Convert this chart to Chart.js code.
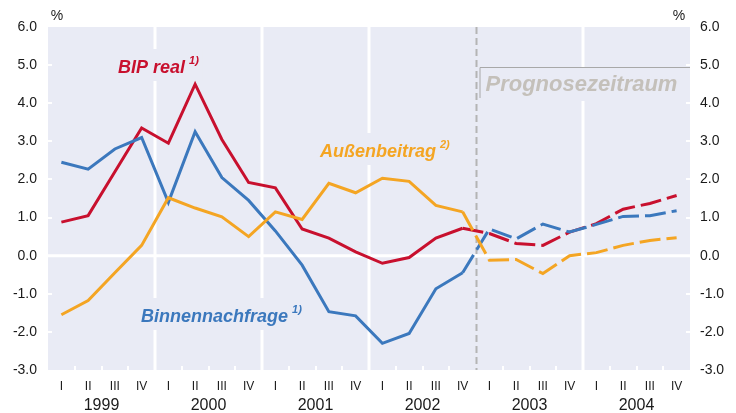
<!DOCTYPE html>
<html>
<head>
<meta charset="utf-8">
<script src="https://cdn.jsdelivr.net/npm/chart.js@4.4.1/dist/chart.umd.min.js"></script>
<style>
  html, body { margin: 0; padding: 0; background: #fff; }
  #grafik { display: block; }
</style>
</head>
<body>
<canvas id="grafik" width="736" height="413"></canvas>
<script>
// Daten (Veränderung gegenüber Vorjahr in %)
const jahre = ["1999", "2000", "2001", "2002", "2003", "2004"];
const quartale = ["I", "II", "III", "IV"];
const labels = jahre.flatMap(() => quartale);

const bipReal = [0.88, 1.05, 2.2, 3.35, 2.95, 4.5, 3.05, 1.92, 1.78, 0.7, 0.46, 0.1, -0.2, -0.05, 0.46, 0.72,
                 0.58, 0.32, 0.27, 0.62, 0.84, 1.22, 1.37, 1.58];
const binnennachfrage = [2.45, 2.27, 2.8, 3.1, 1.4, 3.25, 2.05, 1.45, 0.65, -0.25, -1.47, -1.58, -2.3, -2.04, -0.87, -0.45,
                         0.7, 0.44, 0.83, 0.62, 0.82, 1.03, 1.05, 1.18];
const aussenbeitrag = [-1.55, -1.18, -0.45, 0.27, 1.52, 1.25, 1.02, 0.5, 1.15, 0.95, 1.9, 1.65, 2.03, 1.95, 1.32, 1.15,
                       -0.12, -0.1, -0.47, 0.0, 0.08, 0.27, 0.4, 0.47];

const prognoseAb = 15; // ab diesem Index gestrichelt
const yMin = -3, yMax = 6;

const farben = { bip: "#c8102e", binnen: "#3b78bd", aussen: "#f4a523", flaeche: "#e9ebf5", prognose: "#c4c0ba" };

const gestrichelt = ctx => ctx.p0DataIndex >= prognoseAb ? [21, 6] : undefined;

// Hintergrund, Jahreslinien, Beschriftungen
const hilfsPlugin = {
  id: "hilfs",
  beforeDatasetsDraw(chart) {
    const { ctx, chartArea: a, scales } = chart;
    const x = scales.x, y = scales.yL;
    const mitte = i => (x.getPixelForValue(i - 1) + x.getPixelForValue(i)) / 2;
    ctx.save();
    ctx.fillStyle = farben.flaeche;
    ctx.fillRect(a.left, a.top, a.right - a.left, a.bottom - a.top);

    ctx.strokeStyle = "#fff";
    // Jahreslinien
    ctx.lineWidth = 3;
    for (let k = 1; k < jahre.length; k++) {
      if (k === 4) continue;
      const px = Math.round(mitte(k * 4));
      ctx.beginPath(); ctx.moveTo(px, a.top); ctx.lineTo(px, a.bottom); ctx.stroke();
    }
    // Nulllinie
    ctx.lineWidth = 3;
    const y0 = y.getPixelForValue(0);
    ctx.beginPath(); ctx.moveTo(a.left, y0); ctx.lineTo(a.right, y0); ctx.stroke();
    // kleine Striche unten
    ctx.lineWidth = 2;
    for (let i = 1; i < labels.length; i++) {
      if (i % 4 === 0) continue;
      const px = Math.round(mitte(i));
      ctx.beginPath(); ctx.moveTo(px, a.bottom); ctx.lineTo(px, a.bottom - 4); ctx.stroke();
    }
    // kleine Striche links/rechts
    for (let v = yMin + 1; v < yMax; v++) {
      const py = Math.round(y.getPixelForValue(v));
      ctx.beginPath(); ctx.moveTo(a.left, py); ctx.lineTo(a.left + 4, py); ctx.stroke();
      ctx.beginPath(); ctx.moveTo(a.right, py); ctx.lineTo(a.right - 4, py); ctx.stroke();
    }

    // Prognoselinie
    const px = Math.round(mitte(16)) + 0.5;
    ctx.strokeStyle = "#b4b4b4";
    ctx.lineWidth = 2;
    ctx.setLineDash([7, 4]);
    ctx.beginPath(); ctx.moveTo(px, a.top); ctx.lineTo(px, a.bottom); ctx.stroke();
    ctx.setLineDash([]);

    // Prognosezeitraum-Kasten
    ctx.fillStyle = farben.flaeche;
    ctx.fillRect(px + 3, 67, a.right - px - 3, 34);
    ctx.strokeStyle = "#a8a8a8";
    ctx.lineWidth = 1;
    ctx.beginPath(); ctx.moveTo(px + 3.5, 98); ctx.lineTo(px + 3.5, 67.5); ctx.lineTo(a.right, 67.5); ctx.stroke();
    ctx.fillStyle = farben.prognose;
    ctx.font = "italic bold 22px 'Liberation Sans', Arial, sans-serif";
    ctx.textBaseline = "alphabetic";
    ctx.textAlign = "left";
    ctx.fillText("Prognosezeitraum", px + 9, 91);

    // Serienbeschriftungen
    const beschriftung = (text, hoch, xs, yb, farbe) => {
      ctx.font = "italic bold 18px 'Liberation Sans', Arial, sans-serif";
      const w = ctx.measureText(text).width;
      ctx.font = "italic bold 11px 'Liberation Sans', Arial, sans-serif";
      const w2 = ctx.measureText(hoch).width;
      ctx.fillStyle = farben.flaeche;
      ctx.fillRect(xs - 4, yb - 24, w + w2 + 12, 32);
      ctx.fillStyle = farbe;
      ctx.font = "italic bold 18px 'Liberation Sans', Arial, sans-serif";
      ctx.fillText(text, xs, yb);
      ctx.font = "italic bold 11px 'Liberation Sans', Arial, sans-serif";
      ctx.fillText(hoch, xs + w + 4, yb - 9);
    };
    beschriftung("BIP real", "1)", 118, 73, farben.bip);
    beschriftung("Außenbeitrag", "2)", 320, 157, farben.aussen);
    beschriftung("Binnennachfrage", "1)", 141, 322, farben.binnen);
    ctx.restore();
  },
  afterDraw(chart) {
    const { ctx, scales } = chart;
    const x = scales.x;
    ctx.save();
    ctx.fillStyle = "#1a1a1a";
    ctx.textAlign = "center";
    ctx.textBaseline = "middle";
    ctx.font = "16px 'Liberation Sans', Arial, sans-serif";
    jahre.forEach((j, k) => {
      const px = (x.getPixelForValue(k * 4 + 1) + x.getPixelForValue(k * 4 + 2)) / 2;
      ctx.fillText(j, px, 406);
    });
    ctx.font = "14px 'Liberation Sans', Arial, sans-serif";
    ctx.fillText("%", 57, 16);
    ctx.fillText("%", 679, 16);
    ctx.restore();
  }
};

const yAchse = (pos, breite, pad) => ({
  position: pos,
  min: yMin,
  max: yMax,
  grid: { display: false, drawTicks: false },
  border: { display: false },
  ticks: {
    stepSize: 1,
    padding: pad,
    color: "#1a1a1a",
    font: { size: 14, family: "'Liberation Sans', Arial, sans-serif" },
    callback: v => v.toFixed(1)
  },
  afterFit: s => { s.width = breite; }
});

new Chart(document.getElementById("grafik"), {
  type: "line",
  data: {
    labels: labels,
    datasets: [
      { label: "Außenbeitrag", data: aussenbeitrag, borderColor: farben.aussen, yAxisID: "yL" },
      { label: "Binnennachfrage", data: binnennachfrage, borderColor: farben.binnen, yAxisID: "yL" },
      { label: "BIP real", data: bipReal, borderColor: farben.bip, yAxisID: "yL" }
    ].map(d => Object.assign(d, {
      borderWidth: 3,
      pointRadius: 0,
      tension: 0,
      fill: false,
      borderCapStyle: "butt",
      segment: { borderDash: gestrichelt }
    }))
  },
  options: {
    responsive: false,
    animation: false,
    layout: { padding: { top: 27, left: 0, right: 0, bottom: 0 } },
    plugins: { legend: { display: false }, tooltip: { enabled: false } },
    scales: {
      x: {
        offset: true,
        grid: { display: false, drawTicks: false },
        border: { display: false },
        ticks: {
          autoSkip: false,
          maxRotation: 0,
          padding: 9,
          color: "#1a1a1a",
          font: { size: 12, family: "'Liberation Sans', Arial, sans-serif" }
        },
        afterFit: s => { s.height = 43; }
      },
      yL: yAchse("left", 48, 11),
      yR: yAchse("right", 46, 10)
    }
  },
  plugins: [hilfsPlugin]
});
</script>
</body>
</html>
